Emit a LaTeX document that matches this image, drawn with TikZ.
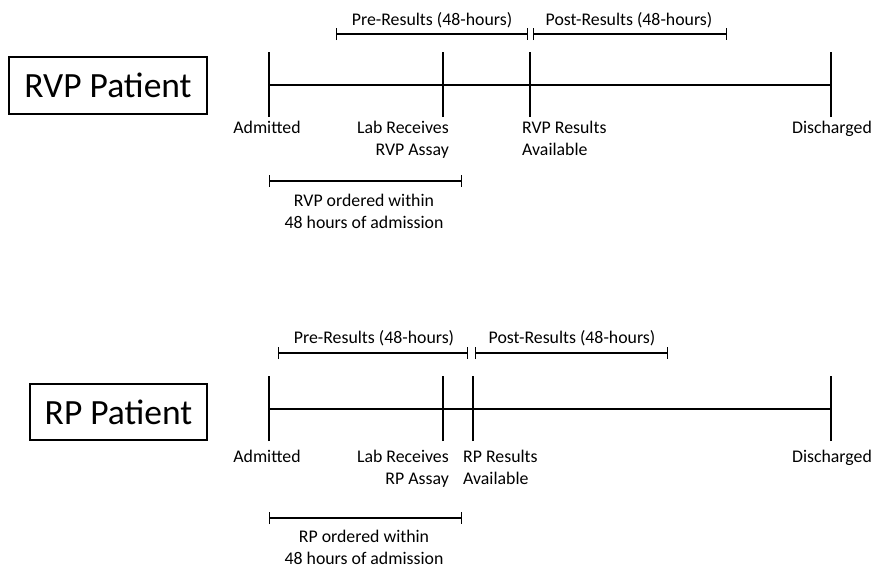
\documentclass[tikz,border=0pt]{standalone}
\usepackage{fontspec}
\setmainfont{Carlito}
\usetikzlibrary{arrows.meta}
\begin{document}
\begin{tikzpicture}[x=1pt,y=-1pt,
  line/.style={line width=1.7pt,black},
  span/.style={line width=1.4pt,black,{Bar[width=12pt,line width=1.4pt]}-{Bar[width=12pt,line width=1.4pt]}},
  lbl/.style={font=\fontsize{17.8}{22}\selectfont,inner sep=0pt,align=center,anchor=base},
  big/.style={draw,line width=1.4pt,font=\fontsize{35.5}{40}\selectfont,inner sep=0pt}]
\useasboundingbox (0,0) rectangle (874,568);
% ---------- RVP ----------
\node[big,minimum width=198pt,minimum height=57pt] (rvpbox) at (108,85.5) {RVP Patient};
\coordinate (a1) at (269,85); \coordinate (l1) at (443,85);
\coordinate (r1) at (530,85); \coordinate (d1) at (831,85);
\draw[line] (a1) -- (d1);
\foreach \p in {a1,l1,r1,d1} \draw[line] ([yshift=-32pt]\p) -- ([yshift=33pt]\p);
\coordinate (p1s) at (336,34); \coordinate (p1e) at (528,34);
\coordinate (q1s) at (533,34); \coordinate (q1e) at (727,34);
\draw[span] (p1s) -- (p1e);
\draw[span] (q1s) -- (q1e);
\node[lbl] (pre1) at (432,25) {Pre-Results (48-hours)};
\node[lbl] (post1) at (629,25) {Post-Results (48-hours)};
\node[lbl] (adm1) at (267,133) {Admitted};
\node[lbl,anchor=base east,align=right] (lab1) at (449,155) {Lab Receives\\RVP Assay};
\node[lbl,anchor=base west,align=left] (res1) at (522,155) {RVP Results\\Available};
\node[lbl] (dis1) at (832,133) {Discharged};
\coordinate (o1s) at (269,181); \coordinate (o1e) at (462,181);
\draw[span] (o1s) -- (o1e);
\node[lbl] (ord1) at (364,228) {RVP ordered within\\48 hours of admission};
% ---------- RP ----------
\node[big,minimum width=177pt,minimum height=56pt] (rpbox) at (118.5,412) {RP Patient};
\coordinate (a2) at (269,409); \coordinate (l2) at (443,409);
\coordinate (r2) at (473,409); \coordinate (d2) at (831,409);
\draw[line] (a2) -- (d2);
\foreach \p in {a2,l2,r2,d2} \draw[line] ([yshift=-32pt]\p) -- ([yshift=33pt]\p);
\coordinate (p2s) at (278,353); \coordinate (p2e) at (468,353);
\coordinate (q2s) at (475,353); \coordinate (q2e) at (668,353);
\draw[span] (p2s) -- (p2e);
\draw[span] (q2s) -- (q2e);
\node[lbl] (pre2) at (374,343) {Pre-Results (48-hours)};
\node[lbl] (post2) at (572,343) {Post-Results (48-hours)};
\node[lbl] (adm2) at (267,462) {Admitted};
\node[lbl,anchor=base east,align=right] (lab2) at (449,484) {Lab Receives\\RP Assay};
\node[lbl,anchor=base west,align=left] (res2) at (463,484) {RP Results\\Available};
\node[lbl] (dis2) at (832,462) {Discharged};
\coordinate (o2s) at (269,518); \coordinate (o2e) at (462,518);
\draw[span] (o2s) -- (o2e);
\node[lbl] (ord2) at (364,564) {RP ordered within\\48 hours of admission};
\end{tikzpicture}
\end{document}
